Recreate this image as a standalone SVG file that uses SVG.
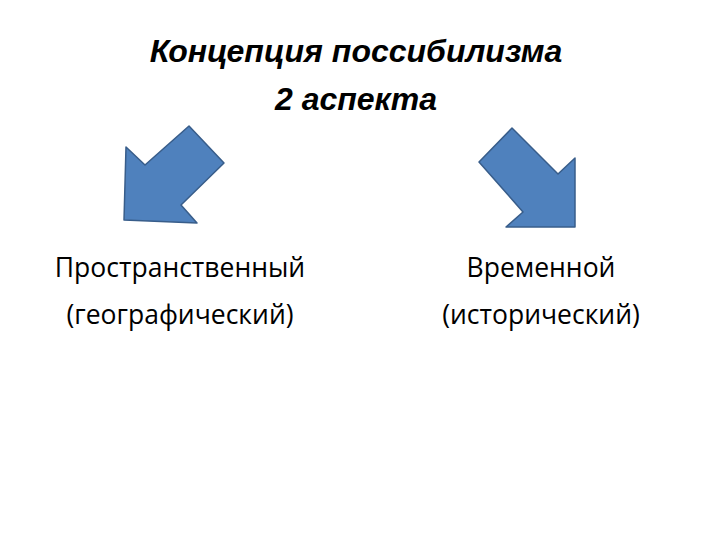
<svg xmlns="http://www.w3.org/2000/svg" width="720" height="540" viewBox="0 0 720 540">
<style>
.t{font-family:"Liberation Sans","Open Sans",sans-serif;font-style:italic;font-weight:bold;font-size:32px;fill:#000;text-anchor:middle}
.b{font-family:"Open Sans","Liberation Sans",sans-serif;font-size:26.5px;fill:#000;text-anchor:middle}
.a{fill:#4f81bd;stroke:#385d8a;stroke-width:1.5;stroke-linejoin:round}
</style>
<rect width="720" height="540" fill="#fff"/>
<g id="title"><text class="t" x="356" y="62">Концепция поссибилизма</text><text class="t" x="356" y="110">2 аспекта</text></g>
<g id="connectors">
<polygon class="a" points="126,147 145,165 189,126 224,163 181,205 197,223 124,220"/>
<polygon class="a" points="479,162 512,128 558,174 575,158 575,227 506,227 523,212"/>
</g>
<g id="left"><text class="b" x="180" y="277">Пространственный</text><text class="b" x="180" y="324">(географический)</text></g>
<g id="right"><text class="b" x="541" y="277">Временной</text><text class="b" x="541" y="324">(исторический)</text></g>
</svg>
